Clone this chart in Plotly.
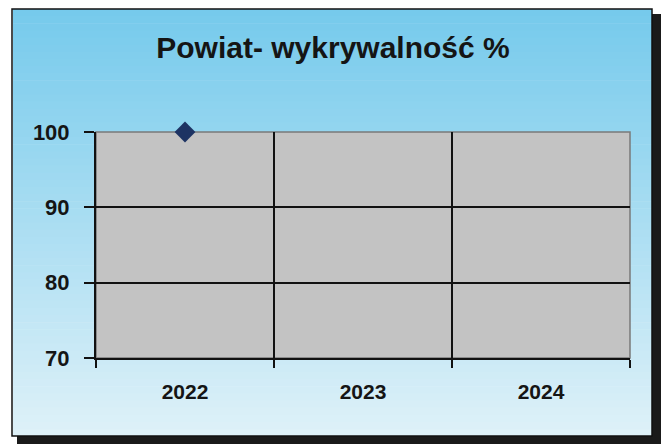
import plotly.graph_objects as go

# ---- data ----
years = ["2022", "2023", "2024"]
values = [100, None, None]
y_ticks = [70, 80, 90, 100]
title_text = "Powiat- wykrywalność %"

W, H = 663, 444
ML, MR, MT, MB = 96, 33, 132, 86
PW, PH = W - ML - MR, H - MT - MB


def px(x):
    return (x - ML) / PW


def py(y):
    return (H - MB - y) / PH


shapes = []
# shadow of frame
shapes.append(dict(type="rect", xref="paper", yref="paper", x0=px(652), x1=px(661),
                   y0=py(14), y1=py(444), fillcolor="#1a1a1a", line=dict(width=0), layer="below"))
shapes.append(dict(type="rect", xref="paper", yref="paper", x0=px(17), x1=px(661),
                   y0=py(436), y1=py(444), fillcolor="#1a1a1a", line=dict(width=0), layer="below"))
# gradient background bands
top_c = (118, 202, 236)
bot_c = (222, 241, 248)
y_top, y_bot = 9, 436
n = 60
for i in range(n):
    t = i / (n - 1)
    c = tuple(int(round(top_c[k] + (bot_c[k] - top_c[k]) * t)) for k in range(3))
    ya = y_top + (y_bot - y_top) * i / n
    yb = y_top + (y_bot - y_top) * (i + 1) / n + 0.6
    shapes.append(dict(type="rect", xref="paper", yref="paper", x0=px(13), x1=px(652),
                       y0=py(min(yb, y_bot)), y1=py(ya), fillcolor="rgb(%d,%d,%d)" % c,
                       line=dict(width=0), layer="below"))
# frame border
shapes.append(dict(type="rect", xref="paper", yref="paper", x0=px(12), x1=px(652),
                   y0=py(436), y1=py(9), fillcolor="rgba(0,0,0,0)",
                   line=dict(color="#111111", width=1.5), layer="below"))
# gray plot area
shapes.append(dict(type="rect", xref="x domain", yref="y domain", x0=0, x1=1, y0=0, y1=1,
                   fillcolor="#c3c3c3", line=dict(color="#7a7a7a", width=1.5), layer="below"))

fig = go.Figure()
fig.add_trace(go.Scatter(
    x=years, y=values, mode="markers",
    marker=dict(symbol="diamond", size=16, color="#1d3363",
                line=dict(color="#1d3363", width=0)),
    showlegend=False, hoverinfo="skip", cliponaxis=False,
))

font_family = "Liberation Sans, Arial, sans-serif"

fig.update_layout(
    width=W, height=H,
    margin=dict(l=ML, r=MR, t=MT, b=MB, pad=0),
    paper_bgcolor="white",
    plot_bgcolor="rgba(0,0,0,0)",
    shapes=shapes,
    title=dict(text=title_text, xref="container", x=333 / W, xanchor="center",
               yref="container", y=1 - 47 / H, yanchor="middle",
               font=dict(family=font_family, size=30, color="#151515", weight="bold")),
    xaxis=dict(
        type="category", categoryorder="array", categoryarray=years,
        range=[-0.5, 2.5], tickson="boundaries",
        showgrid=True, gridcolor="#111111", gridwidth=2,
        showline=True, linecolor="#111111", linewidth=2,
        ticks="outside", ticklen=8, tickwidth=2, tickcolor="#111111",
        tickfont=dict(family=font_family, size=21, color="#151515", weight="bold"),
        ticklabelstandoff=14,
        fixedrange=True, zeroline=False,
    ),
    yaxis=dict(
        range=[70, 100], tickvals=y_ticks,
        showgrid=True, gridcolor="#111111", gridwidth=2,
        showline=True, linecolor="#111111", linewidth=2,
        ticks="outside", ticklen=10, tickwidth=2, tickcolor="#111111",
        tickfont=dict(family=font_family, size=22, color="#151515", weight="bold"),
        ticklabelstandoff=10,
        fixedrange=True, zeroline=False,
    ),
)

fig.write_html("out.html", config={"displayModeBar": False},
               post_script="document.body.style.margin='0';")
